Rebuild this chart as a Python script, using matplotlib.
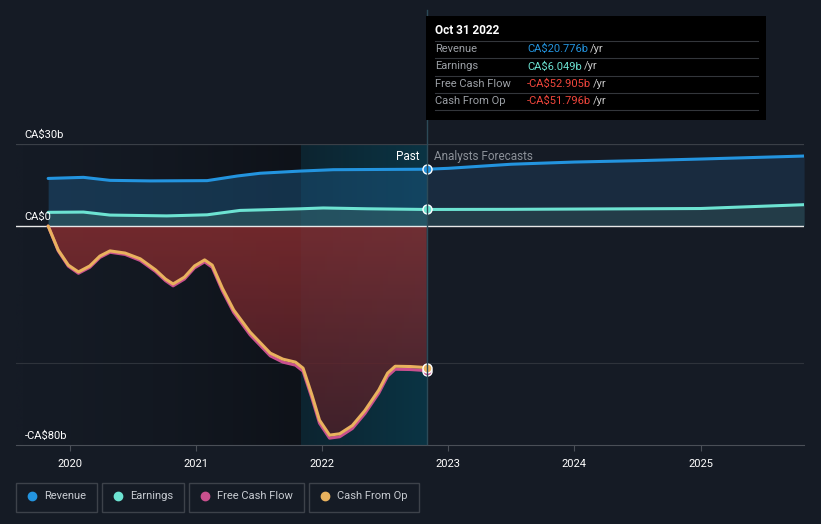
import numpy as np
import matplotlib.pyplot as plt
from matplotlib.patches import Rectangle
from matplotlib.lines import Line2D
from matplotlib.colors import LinearSegmentedColormap

plt.rcParams['font.family'] = ['Roboto', 'DejaVu Sans']

# ---- data (CA$ billions, decimal years) ----
past_rev_x = [2019.83, 2020.11, 2020.32, 2020.64, 2021.09, 2021.33, 2021.51, 2021.83, 2022.09, 2022.83]
past_rev_y = [17.4, 17.8, 16.7, 16.5, 16.6, 18.3, 19.3, 20.1, 20.6, 20.776]
fc_rev_x = [2022.83, 2023.0, 2023.5, 2024.0, 2024.5, 2025.0, 2025.82]
fc_rev_y = [20.776, 21.1, 22.6, 23.4, 23.9, 24.5, 25.6]

past_earn_x = [2019.83, 2020.11, 2020.32, 2020.77, 2021.09, 2021.35, 2021.83, 2022.01, 2022.36, 2022.83]
past_earn_y = [5.0, 5.1, 4.0, 3.7, 4.1, 5.7, 6.3, 6.6, 6.3, 6.049]
fc_earn_x = [2022.83, 2023.5, 2024.0, 2024.5, 2025.0, 2025.82]
fc_earn_y = [6.049, 6.1, 6.2, 6.3, 6.4, 7.8]

cfo_x = [2019.83, 2019.91, 2019.99, 2020.07, 2020.16, 2020.24, 2020.32, 2020.44, 2020.56,
         2020.68, 2020.76, 2020.82, 2020.91, 2020.99, 2021.07, 2021.13, 2021.21, 2021.30,
         2021.43, 2021.59, 2021.69, 2021.79, 2021.85, 2021.92, 2021.98, 2022.06, 2022.14,
         2022.24, 2022.34, 2022.45, 2022.52, 2022.58, 2022.70, 2022.83]
cfo_y = [0, -8.8, -14.3, -16.8, -14.6, -11.0, -9.1, -9.9, -12.0,
         -16.0, -19.4, -21.2, -18.7, -14.6, -12.4, -14.3, -22.7, -30.7,
         -38.8, -46.5, -48.7, -49.8, -52.0, -61.8, -71.0, -76.5, -76.0,
         -73.0, -67.5, -60.0, -53.8, -51.3, -51.4, -51.796]
fcf_y = [0, -9.1, -14.7, -17.3, -15.1, -11.5, -9.6, -10.4, -12.6,
         -16.6, -20.0, -21.9, -19.4, -15.3, -13.1, -15.1, -23.6, -31.6,
         -39.8, -47.5, -49.8, -50.9, -53.1, -62.9, -72.1, -77.6, -77.1,
         -74.1, -68.6, -61.1, -54.9, -52.4, -52.5, -52.905]

years = [2020, 2021, 2022, 2023, 2024, 2025]
ytick_vals = [30, 0, -80]
ytick_labels = ['CA$30b', 'CA$0', '-CA$80b']

BG = '#151b25'
REV_C = '#2394df'
EARN_C = '#6de3d2'
FCF_C = '#c9508e'
CFO_C = '#e9b25e'
NEG_C = '#f0463c'

fig = plt.figure(figsize=(8.21, 5.24), dpi=100, facecolor=BG)
W, H = 821, 524
bottom_px, top_px = 444.7, 144
ax = fig.add_axes([16 / W, (H - bottom_px) / H, (804 - 16) / W, (bottom_px - top_px) / H])
ax.set_facecolor(BG)
x0 = 2020 + (16 - 69.6) / 126.2
x1 = 2020 + (804 - 69.6) / 126.2
ax.set_xlim(x0, x1)
ax.set_ylim(-80, 30)
now = 2022.83
hl_start = 2021.83

# darkening gradient over the past region
grad = np.linspace(0, 1, 256).reshape(1, -1) ** 1.5
ax.imshow(grad, extent=[x0, hl_start, -80, 30], aspect='auto',
          cmap=LinearSegmentedColormap.from_list('d', [BG, '#0e1219']), zorder=0)
# last-year highlight band
band = np.linspace(0, 1, 256).reshape(1, -1)
ax.imshow(band, extent=[hl_start, now, -80, 30], aspect='auto',
          cmap=LinearSegmentedColormap.from_list('b', ['#0d2430', '#0a3444']), zorder=0)

# grid lines
ax.axhline(30, color='#3a3f47', lw=0.9, zorder=1)
ax.axhline(-50, color='#2e333b', lw=0.8, zorder=1)

# area fills
ax.fill_between(past_rev_x, past_rev_y, 0, color='#1d5a86', alpha=0.45, lw=0, zorder=2)
ax.fill_between(fc_rev_x, fc_rev_y, 0, color='#1e3a55', alpha=0.55, lw=0, zorder=2)
ax.fill_between(past_earn_x, past_earn_y, 0, color='#3a6a6a', alpha=0.45, lw=0, zorder=2)
ax.fill_between(fc_earn_x, fc_earn_y, 0, color='#2e4d52', alpha=0.5, lw=0, zorder=2)

red = ax.fill_between(cfo_x, cfo_y, 0, color='none', lw=0, zorder=2)
vg = np.linspace(1, 0, 256).reshape(-1, 1)
img = ax.imshow(vg, extent=[2019.83, now, -80, 0], aspect='auto', zorder=2, alpha=0.8,
                cmap=LinearSegmentedColormap.from_list('r', ['#4a1f28', '#8a2e31']))
img.set_clip_path(red.get_paths()[0], transform=ax.transData)

# zero line
ax.axhline(0, color='#e8e8e8', lw=1.0, zorder=3)

# lines
style = dict(lw=2.2, solid_joinstyle='round', solid_capstyle='round')
ax.plot(past_rev_x, past_rev_y, color=REV_C, zorder=5, **style)
ax.plot(fc_rev_x, fc_rev_y, color=REV_C, zorder=5, **style)
ax.plot(past_earn_x, past_earn_y, color=EARN_C, zorder=5, **style)
ax.plot(fc_earn_x, fc_earn_y, color=EARN_C, zorder=5, **style)
ax.plot(cfo_x, fcf_y, color=FCF_C, zorder=5, **style)
ax.plot(cfo_x, cfo_y, color=CFO_C, zorder=6, **style)

for yv, c in [(past_rev_y[-1], REV_C), (past_earn_y[-1], EARN_C), (fcf_y[-1], FCF_C), (cfo_y[-1], CFO_C)]:
    ax.plot([now], [yv], 'o', ms=6.5, mfc=c, mec='white', mew=1.0, zorder=7)

ax.text(now - 0.06, 25.5, 'Past', color='white', fontsize=8.5, ha='right', va='center', zorder=8)
ax.text(now + 0.06, 25.5, 'Analysts Forecasts', color='#8b9098', fontsize=8.5, ha='left', va='center', zorder=8)

# axes styling
for s in ['top', 'right', 'left']:
    ax.spines[s].set_visible(False)
ax.spines['bottom'].set_color('#4a4f57')
ax.set_yticks([])
ax.set_xticks(years)
ax.set_xticklabels([str(y) for y in years], color='white', fontsize=8)
ax.tick_params(axis='x', length=4, color='#4a4f57', pad=6)
for v, lab in zip(ytick_vals, ytick_labels):
    ax.text(x0 + 0.07, v + 1.3, lab, color='white', fontsize=8, ha='left', va='bottom', zorder=8)

# vertical now line up to the tooltip
xf = (16 + (now - x0) * 126.2) / W
fig.add_artist(Line2D([xf, xf], [(H - 444) / H, (H - 10) / H], color='#2c4a58', lw=1.0, zorder=1))

# tooltip
fig.add_artist(Rectangle((426 / W, (H - 120) / H), 340 / W, 104 / H, facecolor='black', edgecolor='none', zorder=10))
fig.text(435 / W, (H - 31) / H, 'Oct 31 2022', color='white', fontsize=8.5, fontweight='bold', va='center', zorder=11)
rows = [('Revenue', 'CA$20.776b', REV_C), ('Earnings', 'CA$6.049b', EARN_C),
        ('Free Cash Flow', '-CA$52.905b', NEG_C), ('Cash From Op', '-CA$51.796b', NEG_C)]
for i, (lab, val, c) in enumerate(rows):
    yy = (H - (49 + i * 17.4)) / H
    fig.text(435 / W, yy, lab, color='#9ca0a6', fontsize=8, va='center', zorder=11)
    t = fig.text(527 / W, yy, val, color=c, fontsize=8, va='center', zorder=11)
    fig.canvas.draw()
    bb = t.get_window_extent()
    fig.text(bb.x1 / W + 2 / W, yy, '/yr', color='#c8c8c8', fontsize=8, va='center', zorder=11)
for yl in [41, 58, 75.5, 93, 110]:
    fig.add_artist(Line2D([435 / W, 758 / W], [(H - yl) / H] * 2, color='#33363b', lw=0.8, zorder=11))

# legend
legend_items = [('Revenue', REV_C, 16, 97), ('Earnings', EARN_C, 102, 184),
                ('Free Cash Flow', FCF_C, 189, 304), ('Cash From Op', CFO_C, 309, 419)]
for lab, c, l, r in legend_items:
    fig.add_artist(Rectangle((l / W, (H - 512) / H), (r - l) / W, 29 / H, facecolor='none',
                             edgecolor='#3d424a', lw=1.0))
    fig.add_artist(Line2D([(l + 16) / W], [(H - 496) / H], marker='o', ms=6, color=c, mec=c))
    fig.text((l + 28) / W, (H - 496) / H, lab, color='#c8ccd2', fontsize=8, va='center')

fig.savefig('out.png', dpi=100, facecolor=BG)
